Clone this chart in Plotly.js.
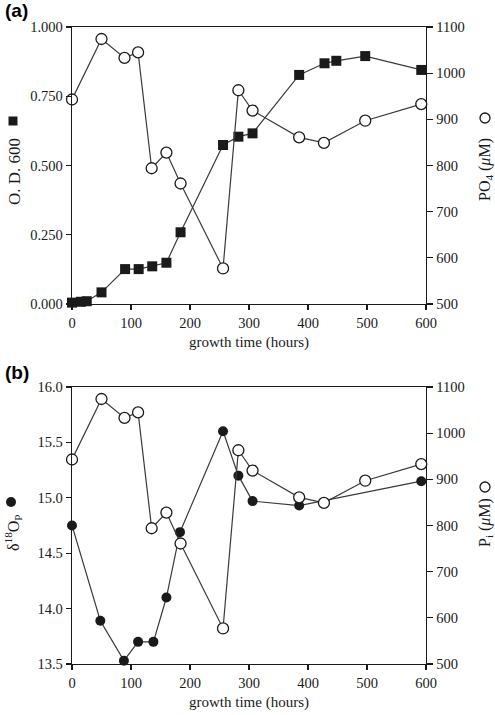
<!DOCTYPE html>
<html>
<head>
<meta charset="utf-8">
<script src="https://cdn.plot.ly/plotly-3.0.1.min.js"></script>
<style>
  html, body { margin: 0; padding: 0; background: #fff; }
  #chart { width: 495px; height: 715px; }
</style>
</head>
<body>
<div id="chart"></div>
<script>
// Culture growth (optical density) and phosphate over time
const timeOD = [0, 15, 25, 50, 90, 113, 136, 160, 184, 256, 282, 306, 385, 428, 448, 497, 592];
const od600 = [0.005, 0.008, 0.010, 0.042, 0.126, 0.126, 0.136, 0.149, 0.259, 0.574, 0.604, 0.616, 0.827, 0.869, 0.878, 0.895, 0.845];

// Phosphate concentration (µM), shown in both panels
const timeP = [0, 50, 89, 112, 135, 160, 184, 256, 282, 306, 385, 427, 497, 592];
const phosphate = [943, 1074, 1033, 1045, 794, 828, 761, 577, 963, 919, 861, 849, 897, 933];

// Oxygen isotope composition of phosphate
const timeD18O = [0, 48, 88, 112, 138, 160, 183, 256, 282, 306, 385, 592];
const d18O = [14.75, 13.89, 13.53, 13.70, 13.70, 14.10, 14.69, 15.60, 15.20, 14.97, 14.93, 15.15];

const W = 495, H = 715;
const px = x => x / W;           // pixel -> paper (horizontal)
const py = y => (H - y) / H;     // pixel -> paper (vertical, from top)

const LINE = '#3a3a3a';
const INK = '#1a1a1a';
const serif = 'Liberation Serif, Times New Roman, serif';

const openCircle = { symbol: 'circle', size: 11, color: '#ffffff', line: { color: INK, width: 1.3 } };

const traces = [
  { x: timeOD, y: od600, xaxis: 'x', yaxis: 'y', mode: 'lines+markers', cliponaxis: false,
    line: { color: LINE, width: 1.2 },
    marker: { symbol: 'square', size: 10, color: INK } },
  { x: timeP, y: phosphate, xaxis: 'x', yaxis: 'y2', mode: 'lines+markers', cliponaxis: false,
    line: { color: LINE, width: 1.2 }, marker: openCircle },
  { x: timeD18O, y: d18O, xaxis: 'x2', yaxis: 'y3', mode: 'lines+markers', cliponaxis: false,
    line: { color: LINE, width: 1.2 },
    marker: { symbol: 'circle', size: 10, color: INK } },
  { x: timeP, y: phosphate, xaxis: 'x2', yaxis: 'y4', mode: 'lines+markers', cliponaxis: false,
    line: { color: LINE, width: 1.2 }, marker: openCircle }
];

const tickFont = { family: serif, size: 14.5, color: INK };
const baseAxis = {
  showline: true, linecolor: INK, linewidth: 1.3,
  ticks: 'outside', ticklen: 5, tickwidth: 1.2, tickcolor: INK,
  showgrid: false, zeroline: false, tickfont: tickFont, fixedrange: true
};
const xdom = [px(72), px(426)];
const domA = [py(304), py(27)];
const domB = [py(664), py(387)];

const xAxis = (dom, anchor) => Object.assign({}, baseAxis, {
  domain: xdom, anchor: anchor, range: [0, 600], dtick: 100, tick0: 0, mirror: true,
  title: { text: 'growth time (hours)', font: { family: serif, size: 15, color: INK }, standoff: 6 }
});

const layout = {
  width: W, height: H,
  margin: { l: 0, r: 0, t: 0, b: 0 },
  paper_bgcolor: '#ffffff', plot_bgcolor: '#ffffff',
  showlegend: false,
  xaxis: xAxis(domA, 'y'),
  xaxis2: xAxis(domB, 'y3'),
  yaxis: Object.assign({}, baseAxis, { domain: domA, anchor: 'x', range: [0, 1], dtick: 0.25, tickformat: '.3f' }),
  yaxis2: Object.assign({}, baseAxis, { overlaying: 'y', side: 'right', anchor: 'x', range: [500, 1100], dtick: 100, ticklen: 6 }),
  yaxis3: Object.assign({}, baseAxis, { domain: domB, anchor: 'x2', range: [13.5, 16.0], dtick: 0.5, tickformat: '.1f' }),
  yaxis4: Object.assign({}, baseAxis, { overlaying: 'y3', side: 'right', anchor: 'x2', range: [500, 1100], dtick: 100, ticklen: 6 }),
  annotations: [
    { text: '<b>(a)</b>', x: px(3), y: py(11), xref: 'paper', yref: 'paper', xanchor: 'left', yanchor: 'middle',
      showarrow: false, font: { family: 'Liberation Sans, Arial, sans-serif', size: 19, color: '#000' } },
    { text: '<b>(b)</b>', x: px(3), y: py(372), xref: 'paper', yref: 'paper', xanchor: 'left', yanchor: 'middle',
      showarrow: false, font: { family: 'Liberation Sans, Arial, sans-serif', size: 19, color: '#000' } },
    { text: 'O. D. 600', x: px(14), y: py(172), xref: 'paper', yref: 'paper', textangle: -90,
      xanchor: 'center', yanchor: 'middle', showarrow: false, font: { family: serif, size: 17, color: INK } },
    { text: 'PO<sub>4</sub> (<i>μ</i>M)', x: px(485), y: py(170), xref: 'paper', yref: 'paper', textangle: -90,
      xanchor: 'center', yanchor: 'middle', showarrow: false, font: { family: serif, size: 16, color: INK } },
    { text: 'δ<sup>18</sup>O<sub>P</sub>', x: px(13), y: py(533), xref: 'paper', yref: 'paper', textangle: -90,
      xanchor: 'center', yanchor: 'middle', showarrow: false, font: { family: serif, size: 16, color: INK } },
    { text: 'P<sub>i</sub> (<i>μ</i>M)', x: px(485), y: py(523), xref: 'paper', yref: 'paper', textangle: -90,
      xanchor: 'center', yanchor: 'middle', showarrow: false, font: { family: serif, size: 16, color: INK } }
  ],
  shapes: [
    // series keys beside the axis titles
    { type: 'rect', xref: 'paper', yref: 'paper', xsizemode: 'pixel', ysizemode: 'pixel',
      xanchor: px(13), yanchor: py(121), x0: -4.5, x1: 4.5, y0: -4.5, y1: 4.5,
      fillcolor: INK, line: { width: 0 } },
    { type: 'circle', xref: 'paper', yref: 'paper', xsizemode: 'pixel', ysizemode: 'pixel',
      xanchor: px(485), yanchor: py(118), x0: -5, x1: 5, y0: -5, y1: 5,
      fillcolor: '#fff', line: { color: INK, width: 1.3 } },
    { type: 'circle', xref: 'paper', yref: 'paper', xsizemode: 'pixel', ysizemode: 'pixel',
      xanchor: px(11), yanchor: py(502), x0: -5, x1: 5, y0: -5, y1: 5,
      fillcolor: INK, line: { width: 0 } },
    { type: 'circle', xref: 'paper', yref: 'paper', xsizemode: 'pixel', ysizemode: 'pixel',
      xanchor: px(485), yanchor: py(487), x0: -5, x1: 5, y0: -5, y1: 5,
      fillcolor: '#fff', line: { color: INK, width: 1.3 } }
  ]
};

Plotly.newPlot('chart', traces, layout, { staticPlot: true, displayModeBar: false });
</script>
</body>
</html>
